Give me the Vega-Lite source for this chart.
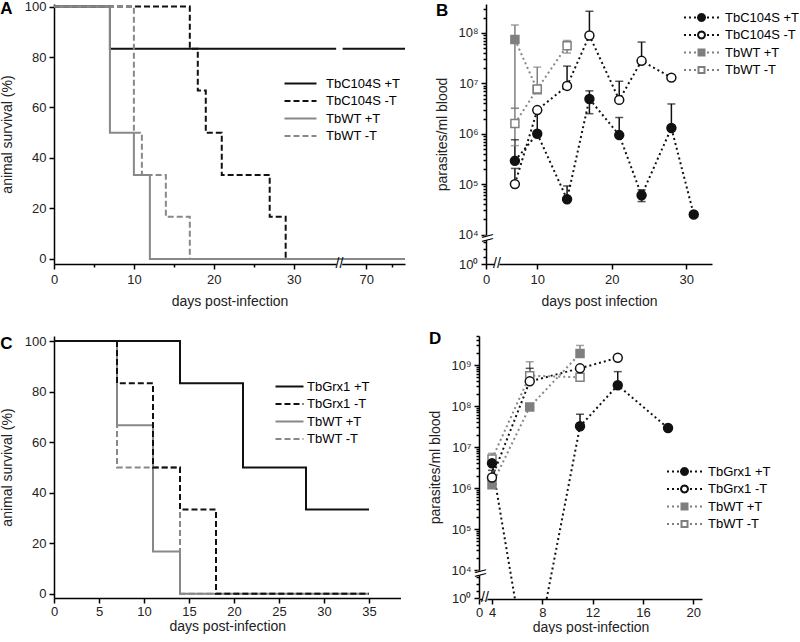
{
  "$schema": "https://vega.github.io/schema/vega-lite/v6.json",
  "padding": 0,
  "background": "white",
  "config": {
    "view": {"stroke": null},
    "font": "Liberation Sans",
    "axis": {"grid": false, "domainColor": "black", "domainWidth": 1.5, "tickColor": "black", "tickWidth": 1.5, "labelFont": "Liberation Sans", "labelFontSize": 13, "labelColor": "#222", "titleFont": "Liberation Sans", "titleFontSize": 14, "titleFontWeight": "normal", "titleColor": "#222", "labelPadding": 3, "labelFlush": false, "labelOverlap": false},
    "legend": {"labelFont": "Liberation Sans", "labelFontSize": 13, "labelColor": "black", "padding": 0, "rowPadding": 3.5, "symbolSize": 100, "symbolStrokeWidth": 2},
    "title": {"fontSize": 17, "fontWeight": "bold", "anchor": "start", "frame": "bounds", "color": "black", "font": "Liberation Sans"}
  },
  "spacing": 21,
  "resolve": {"scale": {"stroke": "independent", "fill": "independent", "shape": "independent", "strokeDash": "independent", "color": "independent"}, "legend": {"stroke": "independent", "fill": "independent", "shape": "independent", "strokeDash": "independent", "color": "independent"}},
  "vconcat": [
    {
      "spacing": 26,
      "resolve": {"scale": {"stroke": "independent", "fill": "independent", "shape": "independent", "strokeDash": "independent", "color": "independent"}, "legend": {"stroke": "independent", "fill": "independent", "shape": "independent", "strokeDash": "independent", "color": "independent"}},
      "hconcat": [
        {
          "title": {"text": "A", "offset": -17.5},
          "width": 351, "height": 260,
          "data": {"values": [
            {"series": "TbC104S +T", "day": 0, "pct": 100}, {"series": "TbC104S +T", "day": 7, "pct": 83.3}, {"series": "TbC104S +T", "day": 77.5, "pct": 83.3},
            {"series": "TbC104S -T", "day": 0, "pct": 100}, {"series": "TbC104S -T", "day": 17, "pct": 83.3}, {"series": "TbC104S -T", "day": 18, "pct": 66.7}, {"series": "TbC104S -T", "day": 19, "pct": 50}, {"series": "TbC104S -T", "day": 21, "pct": 33.3}, {"series": "TbC104S -T", "day": 27, "pct": 16.7}, {"series": "TbC104S -T", "day": 29, "pct": 0}, {"series": "TbC104S -T", "day": 77.5, "pct": 0},
            {"series": "TbWT +T", "day": 0, "pct": 100}, {"series": "TbWT +T", "day": 7, "pct": 50}, {"series": "TbWT +T", "day": 10, "pct": 33.3}, {"series": "TbWT +T", "day": 12, "pct": 0}, {"series": "TbWT +T", "day": 77.5, "pct": 0},
            {"series": "TbWT -T", "day": 0, "pct": 100}, {"series": "TbWT -T", "day": 10, "pct": 50}, {"series": "TbWT -T", "day": 11, "pct": 33.3}, {"series": "TbWT -T", "day": 14, "pct": 16.7}, {"series": "TbWT -T", "day": 17, "pct": 0}, {"series": "TbWT -T", "day": 77.5, "pct": 0}
          ]},
          "layer": [
            {
              "transform": [{"filter": "false"}],
              "mark": {"type": "line", "strokeWidth": 2},
              "encoding": {
                "x": {"field": "day", "type": "quantitative", "scale": {"domain": [0, 35.3, 65.5, 77.5], "range": [0, 282, 289, 351], "nice": false, "zero": false},
                  "axis": {"values": [0, 5, 10, 15, 20, 25, 30, 70, 75], "labelExpr": "datum.value % 10 == 0 ? datum.label : ''", "tickSize": {"condition": {"test": "datum.value % 10 == 0", "value": 5}, "value": 3}, "labelPadding": 4, "title": "days post-infection", "titlePadding": 8}},
                "y": {"field": "pct", "type": "quantitative", "scale": {"domain": [-2, 101], "nice": false, "zero": false},
                  "axis": {"values": [0, 10, 20, 30, 40, 50, 60, 70, 80, 90, 100], "labelExpr": "datum.value % 20 == 0 ? datum.label : ''", "tickSize": {"condition": {"test": "datum.value % 20 == 0", "value": 5}, "value": 3}, "title": "animal survival (%)", "titlePadding": 10}},
                "stroke": {"field": "series", "type": "nominal", "scale": {"domain": ["TbC104S +T", "TbC104S -T", "TbWT +T", "TbWT -T"], "range": ["#111111", "#111111", "#888888", "#888888"]},
                  "legend": {"title": null, "orient": "none", "legendX": 224, "legendY": 73, "symbolType": "M-3.2,0H3.2", "symbolOffset": 16, "labelOffset": 19}},
                "strokeDash": {"field": "series", "type": "nominal", "scale": {"domain": ["TbC104S +T", "TbC104S -T", "TbWT +T", "TbWT -T"], "range": [[1, 0], [6, 3], [1, 0], [6, 3]]},
                  "legend": {"title": null, "orient": "none", "legendX": 224, "legendY": 73, "symbolType": "M-3.2,0H3.2", "symbolOffset": 16, "labelOffset": 19}}
              }
            },
            {"transform": [{"filter": "datum.series == 'TbC104S +T'"}], "mark": {"type": "line", "interpolate": "step-after", "stroke": "#111111", "strokeWidth": 2}, "encoding": {"x": {"field": "day", "type": "quantitative"}, "y": {"field": "pct", "type": "quantitative"}}},
            {"transform": [{"filter": "datum.series == 'TbC104S -T'"}], "mark": {"type": "line", "interpolate": "step-after", "stroke": "#111111", "strokeWidth": 2, "strokeDash": [6, 3]}, "encoding": {"x": {"field": "day", "type": "quantitative"}, "y": {"field": "pct", "type": "quantitative"}}},
            {"transform": [{"filter": "datum.series == 'TbWT -T'"}], "mark": {"type": "line", "interpolate": "step-after", "stroke": "#888888", "strokeWidth": 2, "strokeDash": [6, 3]}, "encoding": {"x": {"field": "day", "type": "quantitative"}, "y": {"field": "pct", "type": "quantitative"}}},
            {"transform": [{"filter": "datum.series == 'TbWT +T'"}], "mark": {"type": "line", "interpolate": "step-after", "stroke": "#888888", "strokeWidth": 2}, "encoding": {"x": {"field": "day", "type": "quantitative"}, "y": {"field": "pct", "type": "quantitative"}}},
            {"data": {"values": [{}]}, "mark": {"type": "rule", "stroke": "white", "strokeWidth": 5}, "encoding": {"x": {"datum": 36, "type": "quantitative"}, "x2": {"datum": 64}, "y": {"datum": 83.3, "type": "quantitative"}}},
            {"data": {"values": [{}]}, "mark": {"type": "rule", "stroke": "white", "strokeWidth": 4}, "encoding": {"x": {"datum": 38, "type": "quantitative"}, "x2": {"datum": 62}, "y": {"datum": -2, "type": "quantitative"}}},
            {"data": {"values": [{}]}, "mark": {"type": "text", "text": "//", "fontSize": 14, "align": "center", "baseline": "middle", "font": "Liberation Sans", "color": "black"}, "encoding": {"x": {"datum": 50, "type": "quantitative"}, "y": {"datum": -2, "type": "quantitative"}}}
          ]
        },
        {
          "title": {"text": "B", "offset": -17.5},
          "width": 226, "height": 260,
          "data": {"values": [
            {"series": "TbC104S +T", "day": 7, "value": 290000, "hi": 760000},
            {"series": "TbC104S +T", "day": 10, "value": 1000000, "hi": 2700000},
            {"series": "TbC104S +T", "day": 14, "value": 50000, "hi": 92000},
            {"series": "TbC104S +T", "day": 17, "value": 4900000, "lo": 2500000, "hi": 7100000},
            {"series": "TbC104S +T", "day": 21, "value": 940000, "hi": 2100000},
            {"series": "TbC104S +T", "day": 24, "value": 60000, "lo": 45000, "hi": 77000},
            {"series": "TbC104S +T", "day": 28, "value": 1300000, "hi": 3900000},
            {"series": "TbC104S +T", "day": 31, "value": 25000},
            {"series": "TbC104S -T", "day": 7, "value": 100000, "hi": 205000},
            {"series": "TbC104S -T", "day": 10, "value": 2950000},
            {"series": "TbC104S -T", "day": 14, "value": 8900000, "hi": 22000000},
            {"series": "TbC104S -T", "day": 17, "value": 89000000, "hi": 270000000},
            {"series": "TbC104S -T", "day": 21, "value": 4700000, "hi": 11000000},
            {"series": "TbC104S -T", "day": 24, "value": 28000000, "hi": 66000000},
            {"series": "TbC104S -T", "day": 28, "value": 13000000},
            {"series": "TbWT +T", "day": 7, "value": 74000000, "lo": 3200000, "hi": 144000000},
            {"series": "TbWT +T", "day": 10, "value": 7500000},
            {"series": "TbWT -T", "day": 7, "value": 1600000, "lo": 580000, "hi": 3200000},
            {"series": "TbWT -T", "day": 10, "value": 7700000, "hi": 21000000},
            {"series": "TbWT -T", "day": 14, "value": 56000000, "lo": 40000000, "hi": 71000000}
          ]},
          "layer": [
            {
              "transform": [{"filter": "false"}],
              "mark": {"type": "point", "filled": true, "opacity": 1},
              "encoding": {
                "x": {"field": "day", "type": "quantitative", "scale": {"domain": [0, 5, 33.45], "range": [0, 14, 226], "nice": false, "zero": false},
                  "axis": {"values": [0, 5, 10, 15, 20, 25, 30], "tickSize": 5, "labelPadding": 4, "title": "days post infection", "titlePadding": 8}},
                "y": {"field": "value", "type": "quantitative", "scale": {"type": "log", "domain": [1, 10000, 376000000], "range": [260, 230.5, 0], "nice": false},
                  "axis": {"values": [1, 10, 100, 1000, 10000, 20000, 30000, 40000, 50000, 60000, 70000, 80000, 90000, 100000, 200000, 300000, 400000, 500000, 600000, 700000, 800000, 900000, 1000000, 2000000, 3000000, 4000000, 5000000, 6000000, 7000000, 8000000, 9000000, 10000000, 20000000, 30000000, 40000000, 50000000, 60000000, 70000000, 80000000, 90000000, 100000000, 200000000, 300000000],
                    "labelExpr": "datum.value == 1 ? '10⁰' : datum.value == 10000 ? '10⁴' : datum.value == 100000 ? '10⁵' : datum.value == 1000000 ? '10⁶' : datum.value == 10000000 ? '10⁷' : datum.value == 100000000 ? '10⁸' : ''",
                    "tickSize": {"condition": {"test": "indexof([1, 10000, 100000, 1000000, 10000000, 100000000], datum.value) >= 0", "value": 5}, "value": 3}, "title": "parasites/ml blood", "titlePadding": 8}},
                "shape": {"field": "series", "type": "nominal", "scale": {"domain": ["TbC104S +T", "TbC104S -T", "TbWT +T", "TbWT -T"], "range": [
                  "M-3.5,0h0.4M-2.5,0h0.4M-1.5,0h0.4M1.1,0h0.4M2.1,0h0.4M3.1,0h0.4M0.7,0L0.606,0.35L0.35,0.606L0,0.7L-0.35,0.606L-0.606,0.35L-0.7,0L-0.606,-0.35L-0.35,-0.606L0,-0.7L0.35,-0.606L0.606,-0.35Z",
                  "M-3.5,0h0.4M-2.5,0h0.4M-1.5,0h0.4M1.1,0h0.4M2.1,0h0.4M3.1,0h0.4M0.7,0L0.606,0.35L0.35,0.606L0,0.7L-0.35,0.606L-0.606,0.35L-0.7,0L-0.606,-0.35L-0.35,-0.606L0,-0.7L0.35,-0.606L0.606,-0.35Z",
                  "M-3.5,0h0.4M-2.5,0h0.4M-1.5,0h0.4M1.1,0h0.4M2.1,0h0.4M3.1,0h0.4M-0.6,-0.6H0.6V0.6H-0.6Z",
                  "M-3.5,0h0.4M-2.5,0h0.4M-1.5,0h0.4M1.1,0h0.4M2.1,0h0.4M3.1,0h0.4M-0.6,-0.6H0.6V0.6H-0.6Z"]},
                  "legend": {"title": null, "orient": "none", "legendX": 190, "legendY": 7, "rowPadding": 2.5, "symbolOffset": 19, "labelOffset": 17}},
                "fill": {"field": "series", "type": "nominal", "scale": {"domain": ["TbC104S +T", "TbC104S -T", "TbWT +T", "TbWT -T"], "range": ["#111111", "white", "#7f7f7f", "white"]},
                  "legend": {"title": null, "orient": "none", "legendX": 190, "legendY": 7, "rowPadding": 2.5, "symbolOffset": 19, "labelOffset": 17}},
                "stroke": {"field": "series", "type": "nominal", "scale": {"domain": ["TbC104S +T", "TbC104S -T", "TbWT +T", "TbWT -T"], "range": ["#111111", "#111111", "#7f7f7f", "#7f7f7f"]},
                  "legend": {"title": null, "orient": "none", "legendX": 190, "legendY": 7, "rowPadding": 2.5, "symbolOffset": 19, "labelOffset": 17}}
              }
            },
            {"data": {"values": [{}]}, "mark": {"type": "rule", "stroke": "white", "strokeWidth": 4}, "encoding": {"x": {"datum": 3.0, "type": "quantitative"}, "x2": {"datum": 4.8}, "y": {"datum": 1, "type": "quantitative"}}},
            {"data": {"values": [{}]}, "mark": {"type": "text", "text": "//", "fontSize": 14, "align": "center", "baseline": "middle", "font": "Liberation Sans", "color": "black"}, "encoding": {"x": {"datum": 3.9, "type": "quantitative"}, "y": {"datum": 1, "type": "quantitative"}}},
            {"data": {"values": [{}]}, "mark": {"type": "rule", "stroke": "white", "strokeWidth": 4}, "encoding": {"x": {"datum": 0, "type": "quantitative"}, "y": {"datum": 1600, "type": "quantitative"}, "y2": {"datum": 7000}}},
            {"data": {"values": [{}]}, "mark": {"type": "text", "text": "\\\\", "angle": 90, "fontSize": 14, "align": "center", "baseline": "middle", "font": "Liberation Sans", "color": "black"}, "encoding": {"x": {"datum": 0, "type": "quantitative"}, "y": {"datum": 3400, "type": "quantitative"}}},
            {"transform": [{"filter": "datum.series == 'TbC104S +T' || datum.series == 'TbC104S -T'"}], "mark": {"type": "line", "stroke": "#111111", "strokeWidth": 2, "strokeDash": [2, 3]}, "encoding": {"x": {"field": "day", "type": "quantitative"}, "y": {"field": "value", "type": "quantitative"}, "detail": {"field": "series"}}},
            {"transform": [{"filter": "datum.series == 'TbWT +T' || datum.series == 'TbWT -T'"}], "mark": {"type": "line", "stroke": "#888888", "strokeWidth": 2, "strokeDash": [2, 3]}, "encoding": {"x": {"field": "day", "type": "quantitative"}, "y": {"field": "value", "type": "quantitative"}, "detail": {"field": "series"}}},
            {"transform": [{"filter": "isValid(datum.hi)"}], "mark": {"type": "rule", "strokeWidth": 1.5}, "encoding": {"x": {"field": "day", "type": "quantitative"}, "y": {"field": "value", "type": "quantitative"}, "y2": {"field": "hi"}, "color": {"field": "series", "type": "nominal", "scale": {"domain": ["TbC104S +T", "TbC104S -T", "TbWT +T", "TbWT -T"], "range": ["#111111", "#111111", "#7f7f7f", "#7f7f7f"]}, "legend": null}}},
            {"transform": [{"filter": "isValid(datum.lo)"}], "mark": {"type": "rule", "strokeWidth": 1.5}, "encoding": {"x": {"field": "day", "type": "quantitative"}, "y": {"field": "lo", "type": "quantitative"}, "y2": {"field": "value"}, "color": {"field": "series", "type": "nominal", "legend": null}}},
            {"transform": [{"filter": "isValid(datum.hi)"}], "mark": {"type": "tick", "orient": "horizontal", "size": 8, "thickness": 1.5}, "encoding": {"x": {"field": "day", "type": "quantitative"}, "y": {"field": "hi", "type": "quantitative"}, "color": {"field": "series", "type": "nominal", "legend": null}}},
            {"transform": [{"filter": "isValid(datum.lo)"}], "mark": {"type": "tick", "orient": "horizontal", "size": 8, "thickness": 1.5}, "encoding": {"x": {"field": "day", "type": "quantitative"}, "y": {"field": "lo", "type": "quantitative"}, "color": {"field": "series", "type": "nominal", "legend": null}}},
            {"transform": [{"filter": "datum.series == 'TbWT +T'"}], "mark": {"type": "point", "shape": "square", "filled": true, "fill": "#7f7f7f", "stroke": "#7f7f7f", "strokeWidth": 1.5, "size": 64, "opacity": 1}, "encoding": {"x": {"field": "day", "type": "quantitative"}, "y": {"field": "value", "type": "quantitative"}}},
            {"transform": [{"filter": "datum.series == 'TbWT -T'"}], "mark": {"type": "point", "shape": "square", "filled": true, "fill": "white", "stroke": "#7f7f7f", "strokeWidth": 1.5, "size": 64, "opacity": 1}, "encoding": {"x": {"field": "day", "type": "quantitative"}, "y": {"field": "value", "type": "quantitative"}}},
            {"transform": [{"filter": "datum.series == 'TbC104S -T'"}], "mark": {"type": "point", "shape": "circle", "filled": true, "fill": "white", "stroke": "#111111", "strokeWidth": 1.5, "size": 80, "opacity": 1}, "encoding": {"x": {"field": "day", "type": "quantitative"}, "y": {"field": "value", "type": "quantitative"}}},
            {"transform": [{"filter": "datum.series == 'TbC104S +T'"}], "mark": {"type": "point", "shape": "circle", "filled": true, "fill": "#111111", "stroke": "#111111", "strokeWidth": 1.5, "size": 80, "opacity": 1}, "encoding": {"x": {"field": "day", "type": "quantitative"}, "y": {"field": "value", "type": "quantitative"}}}
          ]
        }
      ]
    },
    {
      "spacing": 27,
      "resolve": {"scale": {"stroke": "independent", "fill": "independent", "shape": "independent", "strokeDash": "independent", "color": "independent"}, "legend": {"stroke": "independent", "fill": "independent", "shape": "independent", "strokeDash": "independent", "color": "independent"}},
      "hconcat": [
        {
          "title": {"text": "C", "offset": -17.5},
          "width": 346.5, "height": 262,
          "data": {"values": [
            {"series": "TbWT +T", "day": 0, "pct": 100}, {"series": "TbWT +T", "day": 7, "pct": 66.7}, {"series": "TbWT +T", "day": 11, "pct": 16.7}, {"series": "TbWT +T", "day": 14, "pct": 0}, {"series": "TbWT +T", "day": 35, "pct": 0},
            {"series": "TbWT -T", "day": 0, "pct": 100}, {"series": "TbWT -T", "day": 7, "pct": 50}, {"series": "TbWT -T", "day": 14, "pct": 0}, {"series": "TbWT -T", "day": 35, "pct": 0},
            {"series": "TbGrx1 -T", "day": 0, "pct": 100}, {"series": "TbGrx1 -T", "day": 7, "pct": 83.3}, {"series": "TbGrx1 -T", "day": 11, "pct": 50}, {"series": "TbGrx1 -T", "day": 14, "pct": 33.3}, {"series": "TbGrx1 -T", "day": 18, "pct": 0}, {"series": "TbGrx1 -T", "day": 35, "pct": 0},
            {"series": "TbGrx1 +T", "day": 0, "pct": 100}, {"series": "TbGrx1 +T", "day": 14, "pct": 83.3}, {"series": "TbGrx1 +T", "day": 21, "pct": 50}, {"series": "TbGrx1 +T", "day": 28, "pct": 33.3}, {"series": "TbGrx1 +T", "day": 35, "pct": 33.3}
          ]},
          "layer": [
            {
              "transform": [{"filter": "false"}],
              "mark": {"type": "line", "strokeWidth": 2},
              "encoding": {
                "x": {"field": "day", "type": "quantitative", "scale": {"domain": [0, 38.5], "nice": false, "zero": false},
                  "axis": {"values": [0, 2.5, 5, 7.5, 10, 12.5, 15, 17.5, 20, 22.5, 25, 27.5, 30, 32.5, 35, 37.5], "labelExpr": "datum.value % 5 == 0 ? datum.label : ''", "tickSize": {"condition": {"test": "datum.value % 5 == 0", "value": 5}, "value": 3}, "labelPadding": 2, "title": "days post-infection", "titlePadding": 1}},
                "y": {"field": "pct", "type": "quantitative", "scale": {"domain": [-1.7, 102], "nice": false, "zero": false},
                  "axis": {"values": [0, 10, 20, 30, 40, 50, 60, 70, 80, 90, 100], "labelExpr": "datum.value % 20 == 0 ? datum.label : ''", "tickSize": {"condition": {"test": "datum.value % 20 == 0", "value": 5}, "value": 3}, "title": "animal survival (%)", "titlePadding": 10}},
                "stroke": {"field": "series", "type": "nominal", "scale": {"domain": ["TbGrx1 +T", "TbGrx1 -T", "TbWT +T", "TbWT -T"], "range": ["#111111", "#111111", "#888888", "#888888"]},
                  "legend": {"title": null, "orient": "none", "legendX": 215, "legendY": 44, "symbolType": "M-2.8,0H2.8", "symbolOffset": 14, "labelOffset": 11}},
                "strokeDash": {"field": "series", "type": "nominal", "scale": {"domain": ["TbGrx1 +T", "TbGrx1 -T", "TbWT +T", "TbWT -T"], "range": [[1, 0], [6, 3], [1, 0], [6, 3]]},
                  "legend": {"title": null, "orient": "none", "legendX": 215, "legendY": 44, "symbolType": "M-2.8,0H2.8", "symbolOffset": 14, "labelOffset": 11}}
              }
            },
            {"transform": [{"filter": "datum.series == 'TbWT +T'"}], "mark": {"type": "line", "interpolate": "step-after", "stroke": "#888888", "strokeWidth": 2}, "encoding": {"x": {"field": "day", "type": "quantitative"}, "y": {"field": "pct", "type": "quantitative"}}},
            {"transform": [{"filter": "datum.series == 'TbWT -T'"}], "mark": {"type": "line", "interpolate": "step-after", "stroke": "#888888", "strokeWidth": 2, "strokeDash": [6, 3]}, "encoding": {"x": {"field": "day", "type": "quantitative"}, "y": {"field": "pct", "type": "quantitative"}}},
            {"transform": [{"filter": "datum.series == 'TbGrx1 -T'"}], "mark": {"type": "line", "interpolate": "step-after", "stroke": "#111111", "strokeWidth": 2, "strokeDash": [6, 3]}, "encoding": {"x": {"field": "day", "type": "quantitative"}, "y": {"field": "pct", "type": "quantitative"}}},
            {"transform": [{"filter": "datum.series == 'TbGrx1 +T'"}], "mark": {"type": "line", "interpolate": "step-after", "stroke": "#111111", "strokeWidth": 2}, "encoding": {"x": {"field": "day", "type": "quantitative"}, "y": {"field": "pct", "type": "quantitative"}}}
          ]
        },
        {
          "title": {"text": "D", "offset": -17.5},
          "width": 223, "height": 263,
          "data": {"values": [
            {"series": "TbGrx1 +T", "day": 4, "value": 4000000},
            {"series": "TbGrx1 +T", "day": 7, "value": 2.5e-13},
            {"series": "TbGrx1 +T", "day": 11, "value": 32000000, "hi": 63000000},
            {"series": "TbGrx1 +T", "day": 14, "value": 320000000, "hi": 690000000},
            {"series": "TbGrx1 +T", "day": 18, "value": 29000000},
            {"series": "TbGrx1 -T", "day": 4, "value": 1800000, "hi": 2700000},
            {"series": "TbGrx1 -T", "day": 7, "value": 400000000, "hi": 830000000},
            {"series": "TbGrx1 -T", "day": 11, "value": 830000000},
            {"series": "TbGrx1 -T", "day": 14, "value": 1500000000},
            {"series": "TbWT +T", "day": 4, "value": 1200000},
            {"series": "TbWT +T", "day": 7, "value": 95000000},
            {"series": "TbWT +T", "day": 11, "value": 1900000000, "hi": 3000000000},
            {"series": "TbWT -T", "day": 4, "value": 5100000, "hi": 7000000},
            {"series": "TbWT -T", "day": 7, "value": 550000000, "hi": 1200000000},
            {"series": "TbWT -T", "day": 11, "value": 500000000}
          ]},
          "layer": [
            {
              "transform": [{"filter": "false"}],
              "mark": {"type": "point", "filled": true, "opacity": 1},
              "encoding": {
                "x": {"field": "day", "type": "quantitative", "scale": {"domain": [0, 4, 20.7], "range": [0, 13, 223], "nice": false, "zero": false},
                  "axis": {"values": [0, 4, 8, 12, 16, 20], "tickSize": 5, "labelPadding": 2, "title": "days post-infection", "titlePadding": 1}},
                "y": {"field": "value", "type": "quantitative", "scale": {"type": "log", "domain": [1, 10000, 5100000000], "range": [262, 234, 0], "nice": false},
                  "axis": {"values": [1, 10, 100, 1000, 10000, 20000, 30000, 40000, 50000, 60000, 70000, 80000, 90000, 100000, 200000, 300000, 400000, 500000, 600000, 700000, 800000, 900000, 1000000, 2000000, 3000000, 4000000, 5000000, 6000000, 7000000, 8000000, 9000000, 10000000, 20000000, 30000000, 40000000, 50000000, 60000000, 70000000, 80000000, 90000000, 100000000, 200000000, 300000000, 400000000, 500000000, 600000000, 700000000, 800000000, 900000000, 1000000000, 2000000000, 3000000000, 4000000000, 5000000000],
                    "labelExpr": "datum.value == 1 ? '10⁰' : datum.value == 10000 ? '10⁴' : datum.value == 100000 ? '10⁵' : datum.value == 1000000 ? '10⁶' : datum.value == 10000000 ? '10⁷' : datum.value == 100000000 ? '10⁸' : datum.value == 1000000000 ? '10⁹' : ''",
                    "tickSize": {"condition": {"test": "indexof([1, 10000, 100000, 1000000, 10000000, 100000000, 1000000000], datum.value) >= 0", "value": 5}, "value": 3}, "title": "parasites/ml blood", "titlePadding": 8}},
                "shape": {"field": "series", "type": "nominal", "scale": {"domain": ["TbGrx1 +T", "TbGrx1 -T", "TbWT +T", "TbWT -T"], "range": [
                  "M-3.5,0h0.4M-2.5,0h0.4M-1.5,0h0.4M1.1,0h0.4M2.1,0h0.4M3.1,0h0.4M0.7,0L0.606,0.35L0.35,0.606L0,0.7L-0.35,0.606L-0.606,0.35L-0.7,0L-0.606,-0.35L-0.35,-0.606L0,-0.7L0.35,-0.606L0.606,-0.35Z",
                  "M-3.5,0h0.4M-2.5,0h0.4M-1.5,0h0.4M1.1,0h0.4M2.1,0h0.4M3.1,0h0.4M0.7,0L0.606,0.35L0.35,0.606L0,0.7L-0.35,0.606L-0.606,0.35L-0.7,0L-0.606,-0.35L-0.35,-0.606L0,-0.7L0.35,-0.606L0.606,-0.35Z",
                  "M-3.5,0h0.4M-2.5,0h0.4M-1.5,0h0.4M1.1,0h0.4M2.1,0h0.4M3.1,0h0.4M-0.6,-0.6H0.6V0.6H-0.6Z",
                  "M-3.5,0h0.4M-2.5,0h0.4M-1.5,0h0.4M1.1,0h0.4M2.1,0h0.4M3.1,0h0.4M-0.6,-0.6H0.6V0.6H-0.6Z"]},
                  "legend": {"title": null, "orient": "none", "legendX": 180, "legendY": 129, "rowPadding": 2.5, "symbolOffset": 19, "labelOffset": 17}},
                "fill": {"field": "series", "type": "nominal", "scale": {"domain": ["TbGrx1 +T", "TbGrx1 -T", "TbWT +T", "TbWT -T"], "range": ["#111111", "white", "#7f7f7f", "white"]},
                  "legend": {"title": null, "orient": "none", "legendX": 180, "legendY": 129, "rowPadding": 2.5, "symbolOffset": 19, "labelOffset": 17}},
                "stroke": {"field": "series", "type": "nominal", "scale": {"domain": ["TbGrx1 +T", "TbGrx1 -T", "TbWT +T", "TbWT -T"], "range": ["#111111", "#111111", "#7f7f7f", "#7f7f7f"]},
                  "legend": {"title": null, "orient": "none", "legendX": 180, "legendY": 129, "rowPadding": 2.5, "symbolOffset": 19, "labelOffset": 17}}
              }
            },
            {"data": {"values": [{}]}, "mark": {"type": "rule", "stroke": "white", "strokeWidth": 4}, "encoding": {"x": {"datum": 1.1, "type": "quantitative"}, "x2": {"datum": 2.6}, "y": {"datum": 1, "type": "quantitative"}}},
            {"data": {"values": [{}]}, "mark": {"type": "text", "text": "//", "fontSize": 14, "align": "center", "baseline": "middle", "font": "Liberation Sans", "color": "black"}, "encoding": {"x": {"datum": 1.85, "type": "quantitative"}, "y": {"datum": 1, "type": "quantitative"}}},
            {"data": {"values": [{}]}, "mark": {"type": "rule", "stroke": "white", "strokeWidth": 4}, "encoding": {"x": {"datum": 0, "type": "quantitative"}, "y": {"datum": 1600, "type": "quantitative"}, "y2": {"datum": 8000}}},
            {"data": {"values": [{}]}, "mark": {"type": "text", "text": "\\\\", "angle": 90, "fontSize": 14, "align": "center", "baseline": "middle", "font": "Liberation Sans", "color": "black"}, "encoding": {"x": {"datum": 0, "type": "quantitative"}, "y": {"datum": 3700, "type": "quantitative"}}},
            {"transform": [{"filter": "datum.series == 'TbGrx1 +T' || datum.series == 'TbGrx1 -T'"}], "mark": {"type": "line", "stroke": "#111111", "strokeWidth": 2, "strokeDash": [2, 3], "clip": true}, "encoding": {"x": {"field": "day", "type": "quantitative"}, "y": {"field": "value", "type": "quantitative"}, "detail": {"field": "series"}}},
            {"transform": [{"filter": "datum.series == 'TbWT +T' || datum.series == 'TbWT -T'"}], "mark": {"type": "line", "stroke": "#888888", "strokeWidth": 2, "strokeDash": [2, 3], "clip": true}, "encoding": {"x": {"field": "day", "type": "quantitative"}, "y": {"field": "value", "type": "quantitative"}, "detail": {"field": "series"}}},
            {"transform": [{"filter": "isValid(datum.hi)"}], "mark": {"type": "rule", "strokeWidth": 1.5}, "encoding": {"x": {"field": "day", "type": "quantitative"}, "y": {"field": "value", "type": "quantitative"}, "y2": {"field": "hi"}, "color": {"field": "series", "type": "nominal", "scale": {"domain": ["TbGrx1 +T", "TbGrx1 -T", "TbWT +T", "TbWT -T"], "range": ["#111111", "#111111", "#7f7f7f", "#7f7f7f"]}, "legend": null}}},
            {"transform": [{"filter": "isValid(datum.hi)"}], "mark": {"type": "tick", "orient": "horizontal", "size": 8, "thickness": 1.5}, "encoding": {"x": {"field": "day", "type": "quantitative"}, "y": {"field": "hi", "type": "quantitative"}, "color": {"field": "series", "type": "nominal", "legend": null}}},
            {"transform": [{"filter": "datum.series == 'TbWT +T'"}], "mark": {"type": "point", "shape": "square", "filled": true, "fill": "#7f7f7f", "stroke": "#7f7f7f", "strokeWidth": 1.5, "size": 64, "opacity": 1, "clip": true}, "encoding": {"x": {"field": "day", "type": "quantitative"}, "y": {"field": "value", "type": "quantitative"}}},
            {"transform": [{"filter": "datum.series == 'TbWT -T'"}], "mark": {"type": "point", "shape": "square", "filled": true, "fill": "white", "stroke": "#7f7f7f", "strokeWidth": 1.5, "size": 64, "opacity": 1, "clip": true}, "encoding": {"x": {"field": "day", "type": "quantitative"}, "y": {"field": "value", "type": "quantitative"}}},
            {"transform": [{"filter": "datum.series == 'TbGrx1 -T'"}], "mark": {"type": "point", "shape": "circle", "filled": true, "fill": "white", "stroke": "#111111", "strokeWidth": 1.5, "size": 80, "opacity": 1, "clip": true}, "encoding": {"x": {"field": "day", "type": "quantitative"}, "y": {"field": "value", "type": "quantitative"}}},
            {"transform": [{"filter": "datum.series == 'TbGrx1 +T'"}], "mark": {"type": "point", "shape": "circle", "filled": true, "fill": "#111111", "stroke": "#111111", "strokeWidth": 1.5, "size": 80, "opacity": 1, "clip": true}, "encoding": {"x": {"field": "day", "type": "quantitative"}, "y": {"field": "value", "type": "quantitative"}}}
          ]
        }
      ]
    }
  ]
}
